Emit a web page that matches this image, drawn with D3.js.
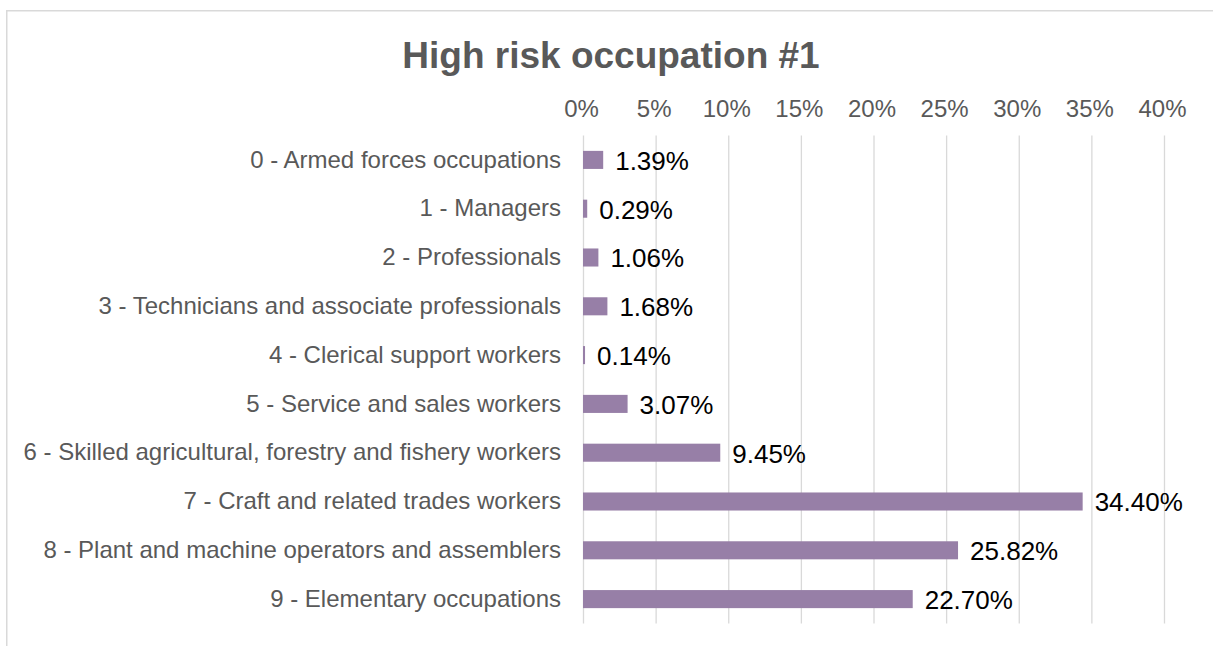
<!DOCTYPE html>
<html>
<head>
<meta charset="utf-8">
<script src="https://cdn.jsdelivr.net/npm/d3@7"></script>
<style>
  body { margin: 0; background: #fff; }
  svg { display: block; font-family: "Liberation Sans", Arial, sans-serif; }
</style>
</head>
<body>
<script>
// occupations and their share of high risk #1
const categories = [
  '0 - Armed forces occupations',
  '1 - Managers',
  '2 - Professionals',
  '3 - Technicians and associate professionals',
  '4 - Clerical support workers',
  '5 - Service and sales workers',
  '6 - Skilled agricultural, forestry and fishery workers',
  '7 - Craft and related trades workers',
  '8 - Plant and machine operators and assemblers',
  '9 - Elementary occupations'
];
const shares = [0.0139, 0.0029, 0.0106, 0.0168, 0.0014, 0.0307, 0.0945, 0.3440, 0.2582, 0.2270];
const tickVals = [0, 0.05, 0.10, 0.15, 0.20, 0.25, 0.30, 0.35, 0.40];

const w = 1213, h = 646;
const plotLeft = 583, plotRight = 1164, plotTop = 135.5, plotBottom = 623.5;

const svg = d3.select('body').append('svg')
    .attr('width', w)
    .attr('height', h);

// chart border, runs off the right and bottom of the window
svg.append('rect')
    .attr('x', 6.75).attr('y', 10.75)
    .attr('width', 1210).attr('height', 650)
    .attr('fill', 'none')
    .attr('stroke', '#d9d9d9')
    .attr('stroke-width', 1.5);

svg.append('text')
    .attr('x', 611).attr('y', 68)
    .attr('text-anchor', 'middle')
    .attr('font-size', 37)
    .attr('font-weight', 'bold')
    .attr('fill', '#595959')
    .text('High risk occupation #1');

const xScale = d3.scaleLinear().domain([0, 0.4]).range([plotLeft, plotRight]);
const yScale = d3.scaleBand().domain(categories).range([plotTop, plotBottom])
    .paddingInner(0.63).paddingOuter(0.315);

// top axis + vertical gridlines
const xAxis = d3.axisTop(xScale)
    .tickValues(tickVals)
    .tickFormat(d3.format('.0%'))
    .tickSize(-(plotBottom - plotTop))
    .tickPadding(18.5);
const gx = svg.append('g')
    .attr('transform', 'translate(0,' + plotTop + ')')
    .call(xAxis);
gx.select('.domain').remove();
gx.selectAll('line').attr('stroke', '#d9d9d9').attr('stroke-width', 1.3);
gx.selectAll('text')
    .attr('x', -2)
    .attr('font-size', 24)
    .attr('font-family', '"Liberation Sans", Arial, sans-serif')
    .attr('fill', '#595959');

// category axis
const yAxis = d3.axisLeft(yScale).tickSize(0).tickPadding(22);
const gy = svg.append('g')
    .attr('transform', 'translate(' + plotLeft + ',0)')
    .call(yAxis);
gy.select('.domain').remove();
gy.selectAll('text')
    .attr('font-size', 24)
    .attr('font-family', '"Liberation Sans", Arial, sans-serif')
    .attr('fill', '#595959');

svg.selectAll('rect.bar')
    .data(shares)
    .enter()
    .append('rect')
    .attr('class', 'bar')
    .attr('x', xScale(0))
    .attr('y', (d, i) => yScale(categories[i]))
    .attr('width', d => xScale(d) - xScale(0))
    .attr('height', yScale.bandwidth())
    .attr('fill', '#977fa7');

svg.selectAll('text.val')
    .data(shares)
    .enter()
    .append('text')
    .attr('class', 'val')
    .attr('x', d => xScale(d) + 12)
    .attr('y', (d, i) => yScale(categories[i]) + yScale.bandwidth() / 2)
    .attr('dy', '0.38em')
    .attr('font-size', 26)
    .attr('fill', '#000')
    .text(d => d3.format('.2%')(d));
</script>
</body>
</html>
